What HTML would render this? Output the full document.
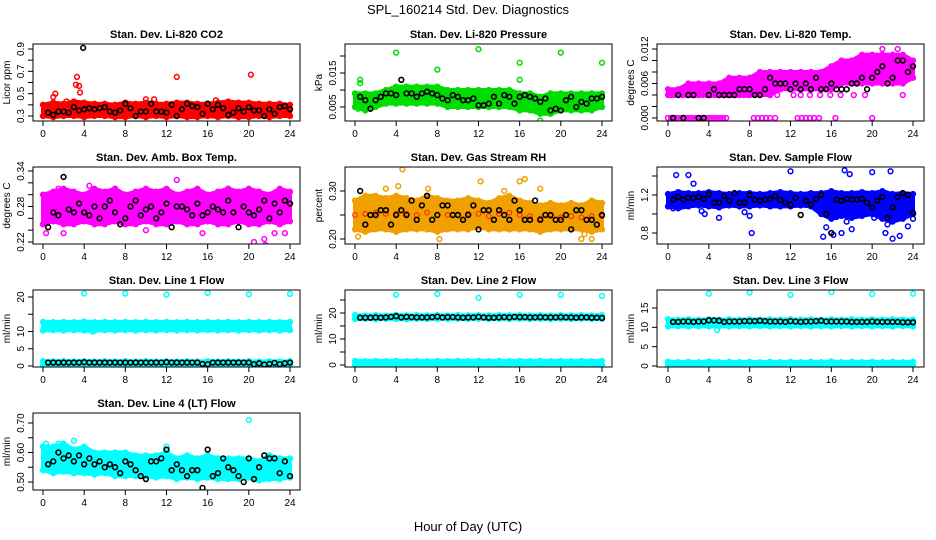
<!DOCTYPE html>
<html><head><meta charset="utf-8"><style>
html,body{margin:0;padding:0;background:#fff}
svg{display:block;font-family:"Liberation Sans",Arial,sans-serif}
</style></head><body>
<svg id="c" width="936" height="540" viewBox="0 0 936 540" xmlns="http://www.w3.org/2000/svg">
<text x="468" y="14" text-anchor="middle" font-size="13">SPL_160214  Std. Dev. Diagnostics</text>
<text x="468" y="531" text-anchor="middle" font-size="13">Hour of Day (UTC)</text>
</svg>
<script>
const hours=[0,1,2,3,4,5,6,7,8,9,10,11,12,13,14,15,16,17,18,19,20,21,22,23,24];
const blackX=[0.5,1,1.5,2,2.5,3,3.5,4,4.5,5,5.5,6,6.5,7,7.5,8,8.5,9,9.5,10,10.5,11,11.5,12,12.5,13,13.5,14,14.5,15,15.5,16,16.5,17,17.5,18,18.5,19,19.5,20,20.5,21,21.5,22,22.5,23,23.5,24];
const xTicks=[0,4,8,12,16,20,24];

const co2Lo=[0.30,0.29,0.30,0.30,0.29,0.30,0.30,0.29,0.29,0.30,0.29,0.30,0.29,0.30,0.29,0.29,0.30,0.29,0.30,0.29,0.29,0.30,0.29,0.30,0.30];
const co2Hi=[0.40,0.42,0.41,0.43,0.42,0.41,0.41,0.40,0.42,0.41,0.42,0.41,0.41,0.42,0.42,0.41,0.41,0.42,0.43,0.42,0.42,0.41,0.41,0.41,0.40];
const co2Black=[0.33,0.31,0.34,0.34,0.33,0.38,0.35,0.36,0.37,0.36,0.37,0.38,0.34,0.33,0.35,0.41,0.37,0.30,0.34,0.34,0.41,0.34,0.34,0.33,0.40,0.30,0.36,0.41,0.39,0.38,0.32,0.41,0.36,0.40,0.37,0.31,0.33,0.37,0.34,0.38,0.35,0.35,0.30,0.36,0.32,0.38,0.39,0.36];
const co2OutX=[1,1.2,3.2,3.3,3.5,3.6,13,20.2,10,10.8,16.8,2.3];
const co2OutY=[0.47,0.50,0.58,0.65,0.57,0.51,0.65,0.67,0.45,0.45,0.44,0.43];
const co2BOutX=[3.9];const co2BOutY=[0.91];

const prLo=[0.005,0.004,0.005,0.006,0.006,0.006,0.006,0.006,0.006,0.005,0.005,0.005,0.005,0.005,0.005,0.005,0.004,0.004,0.003,0.003,0.004,0.004,0.004,0.004,0.005];
const prHi=[0.009,0.009,0.009,0.010,0.011,0.011,0.011,0.011,0.011,0.010,0.010,0.010,0.010,0.010,0.010,0.010,0.009,0.009,0.008,0.009,0.009,0.009,0.009,0.009,0.009];
const prBlack=[0.008,0.007,0.0045,0.007,0.008,0.009,0.009,0.0085,0.013,0.009,0.009,0.008,0.009,0.0095,0.009,0.0085,0.0075,0.007,0.0085,0.008,0.007,0.007,0.0075,0.0055,0.0055,0.006,0.008,0.006,0.0085,0.008,0.006,0.008,0.0085,0.008,0.0075,0.0065,0.0075,0.004,0.0045,0.004,0.007,0.008,0.005,0.0065,0.006,0.0075,0.0075,0.008];
const prOutX=[0.5,0.5,4,8,12,16,16,20,24,18,0.3];
const prOutY=[0.013,0.012,0.021,0.016,0.022,0.018,0.013,0.021,0.018,0.001,0.0045];

const tpLo=[0.004,0.004,0.004,0.004,0.004,0.004,0.004,0.004,0.004,0.004,0.004,0.005,0.005,0.005,0.005,0.005,0.005,0.006,0.006,0.006,0.006,0.006,0.006,0.006,0.007];
const tpHi=[0.005,0.005,0.006,0.006,0.006,0.006,0.007,0.007,0.007,0.008,0.008,0.008,0.008,0.008,0.008,0.008,0.009,0.010,0.010,0.011,0.011,0.011,0.011,0.011,0.010];
const tpBlack=[0.000,0.004,0.000,0.004,0.004,0.000,0.000,0.004,0.005,0.004,0.004,0.004,0.004,0.005,0.005,0.005,0.004,0.004,0.005,0.007,0.006,0.006,0.006,0.005,0.006,0.005,0.006,0.005,0.007,0.005,0.005,0.006,0.005,0.005,0.005,0.006,0.006,0.007,0.005,0.007,0.008,0.009,0.006,0.007,0.010,0.010,0.008,0.009];
const tpOutX=[0,0.3,0.6,0.9,1.2,1.5,1.8,2.1,2.4,2.7,3,3.3,3.6,3.9,4.2,4.5,4.8,5.1,5.4,5.7,8.4,8.8,9.2,9.6,10,10.5,12.7,13.1,13.5,13.9,14.3,14.8,16.4,20,0.3,0.6,1,1.4,1.8,2.2,2.6,3,3.4,3.8,4.2,4.6,5,5.4,5.8,6.2,6.6,7,7.4,7.8,9,10,10.7,12.3,13,13.9,14.9,15.9,16.9,18.2,19.3,23,21,22.5];
const tpOutY=[0,0,0,0,0,0,0,0,0,0,0,0,0,0,0,0,0,0,0,0,0,0,0,0,0,0,0,0,0,0,0,0,0,0,0.004,0.004,0.004,0.004,0.004,0.004,0.004,0.004,0.004,0.004,0.004,0.004,0.004,0.004,0.004,0.004,0.004,0.004,0.004,0.004,0.004,0.004,0.004,0.004,0.004,0.004,0.004,0.004,0.004,0.004,0.004,0.004,0.012,0.012];

const abLo=[0.25,0.255,0.25,0.25,0.255,0.25,0.25,0.255,0.25,0.25,0.255,0.25,0.25,0.255,0.25,0.25,0.255,0.25,0.25,0.255,0.25,0.25,0.255,0.25,0.255];
const abHi=[0.30,0.305,0.31,0.305,0.30,0.31,0.305,0.31,0.30,0.305,0.31,0.305,0.31,0.30,0.305,0.31,0.30,0.305,0.31,0.305,0.31,0.305,0.30,0.31,0.305];
const abBlack=[0.245,0.27,0.265,0.33,0.275,0.27,0.285,0.27,0.265,0.28,0.26,0.28,0.29,0.27,0.25,0.26,0.28,0.29,0.265,0.275,0.28,0.26,0.27,0.285,0.245,0.28,0.28,0.275,0.265,0.285,0.265,0.27,0.28,0.275,0.27,0.29,0.27,0.245,0.28,0.27,0.265,0.275,0.29,0.26,0.285,0.27,0.29,0.285];
const abOutX=[0.3,4.5,7,13,15.5,18,20.5,21.5,21.6,22.5,23.5,10,2,1.5];
const abOutY=[0.235,0.315,0.31,0.325,0.235,0.31,0.22,0.225,0.215,0.235,0.235,0.24,0.235,0.31];

const rhLo=[0.22,0.215,0.22,0.22,0.215,0.22,0.22,0.22,0.215,0.22,0.22,0.22,0.225,0.22,0.22,0.22,0.22,0.22,0.215,0.22,0.22,0.22,0.22,0.215,0.22];
const rhHi=[0.28,0.29,0.29,0.285,0.29,0.285,0.28,0.29,0.285,0.28,0.28,0.285,0.28,0.275,0.285,0.29,0.28,0.275,0.27,0.275,0.27,0.275,0.27,0.28,0.275];
const rhBlack=[0.30,0.23,0.25,0.25,0.26,0.26,0.23,0.25,0.26,0.25,0.28,0.24,0.27,0.29,0.24,0.25,0.27,0.27,0.25,0.25,0.24,0.25,0.27,0.22,0.26,0.26,0.24,0.26,0.25,0.24,0.28,0.26,0.24,0.24,0.28,0.24,0.25,0.25,0.24,0.24,0.25,0.22,0.26,0.26,0.24,0.24,0.23,0.25];
const rhOutX=[0.3,4.2,7.1,12.2,16,16.5,22,22.3,23,18,14.5,3,8.2,4.6];
const rhOutY=[0.205,0.31,0.305,0.32,0.32,0.325,0.20,0.21,0.20,0.305,0.30,0.305,0.20,0.345];

const sfLo=[1.08,1.06,1.08,1.09,1.08,1.07,1.09,1.08,1.08,1.09,1.08,1.08,1.08,1.09,1.08,1.0,0.95,0.98,0.96,0.98,1.0,0.95,0.92,0.95,1.0];
const sfHi=[1.21,1.23,1.22,1.22,1.23,1.22,1.21,1.22,1.22,1.21,1.22,1.23,1.22,1.21,1.22,1.22,1.24,1.22,1.22,1.23,1.22,1.24,1.21,1.22,1.21];
const sfBlack=[1.15,1.18,1.15,1.17,1.17,1.18,1.16,1.21,1.12,1.12,1.19,1.14,1.22,1.12,1.12,1.20,1.15,1.14,1.15,1.16,1.19,1.15,1.12,1.10,1.17,0.99,1.14,1.10,1.16,1.20,1.0,0.80,1.15,1.14,1.16,1.15,1.15,1.16,1.12,1.07,1.14,1.18,0.96,1.07,1.18,1.22,1.20,1.01];
const sfOutX=[0.8,2,2.5,3.3,3.6,5,7.5,8,8.2,12,17.3,17.8,20,21.8,15.2,16,17,18,21.3,22,22.7,23.5,24,20.2,16.5,17.5,21.5,15.5,16.2,0.5];
const sfOutY=[1.41,1.41,1.32,1.03,1.0,0.96,1.02,0.98,0.80,1.45,1.46,1.42,1.44,1.45,0.76,0.80,0.80,0.84,0.80,0.74,0.77,0.87,0.95,0.96,0.97,0.92,0.89,0.86,0.78,1.06];

const l1Lo=[10.3,10.4,10.3,10.4,10.3,10.2,10.4,10.3,10.4,10.3,10.4,10.3,10.4,10.3,10.4,10.3,10.4,10.3,10.4,10.3,10.4,10.3,10.4,10.3,10.4];
const l1Hi=[12.8,12.7,12.8,12.7,12.9,12.7,12.8,12.7,12.8,12.7,12.8,12.7,12.8,12.7,12.8,12.7,12.8,12.7,12.8,12.7,12.8,12.7,12.8,12.7,12.8];
const l1RowLo=[0.2,0.3,0.2,0.3,0.2,0.3,0.2,0.3,0.2,0.3,0.2,0.3,0.2,0.3,0.2,0.3,0.2,0.3,0.2,0.3,0.2,0.3,0.2,0.3,0.2];
const l1RowHi=[1.4,1.3,1.4,1.3,1.4,1.3,1.4,1.3,1.4,1.3,1.4,1.3,1.4,1.3,1.4,1.3,1.4,1.3,1.4,1.3,1.4,1.3,1.4,1.3,1.4];
const l1Black=[1,1,1,1,1,1,1,1.1,1,1,1,1,1,1,1,1,1,1,1,1,1,1,1,1.1,1,1,1,1,1,1,0.6,0.5,1,1,1,1,1,1,1,1,0.5,0.8,0.4,0.6,0.9,0.5,0.8,1];
const l1OutX=[4,8,12,16,20,24,4.8];
const l1OutY=[21,21,20.7,21.2,20.8,20.9,10];

const l2Lo=[17.7,17.8,17.6,17.8,17.7,17.6,17.8,17.7,17.8,17.7,17.8,17.7,17.8,17.7,17.8,17.7,17.8,17.7,17.8,17.7,17.8,17.7,17.8,17.7,17.8];
const l2Hi=[19.2,19.1,19.2,19.0,19.3,19.1,19.2,19.1,19.2,19.1,19.2,19.1,19.2,19.1,19.2,19.1,19.2,19.1,19.2,19.1,19.2,19.1,19.2,19.1,19.2];
const l2RowLo=[0.2,0.3,0.2,0.3,0.2,0.3,0.2,0.3,0.2,0.3,0.2,0.3,0.2,0.3,0.2,0.3,0.2,0.3,0.2,0.3,0.2,0.3,0.2,0.3,0.0];
const l2RowHi=[1.6,1.5,1.6,1.5,1.6,1.5,1.6,1.5,1.6,1.5,1.6,1.5,1.6,1.5,1.6,1.5,1.6,1.5,1.6,1.5,1.6,1.5,1.6,1.5,1.6];
const l2Black=[18.2,18.2,18.2,18.3,18.2,18.3,18.5,18.8,18.3,18.5,18.4,18.3,18.3,18.3,18.4,18.6,18.3,18.4,18.4,18.3,18.2,18.3,18.3,18.5,18.3,18.2,18.2,18.3,18.4,18.3,18.5,18.4,18.4,18.3,18.3,18.4,18.3,18.3,18.3,18.4,18.3,18.3,18.2,18.3,18.3,18.2,18.2,18.1];
const l2OutX=[4,8,12,16,20,24];
const l2OutY=[27,27.3,25.8,27,27,26.6];

const l3Lo=[10.2,10.3,10.2,10.3,10.2,10.3,10.2,10.3,10.2,10.3,10.2,10.3,10.2,10.3,10.2,10.3,10.2,10.3,10.2,10.3,10.2,10.3,10.2,10.3,10.2];
const l3Hi=[12.1,12.0,12.1,12.0,12.1,12.0,12.1,12.0,12.1,12.0,12.1,12.0,12.1,12.0,12.1,12.0,12.1,12.0,12.1,12.0,12.1,12.0,12.1,12.0,12.0];
const l3RowLo=[0.1,0.2,0.1,0.2,0.1,0.2,0.1,0.2,0.1,0.2,0.1,0.2,0.1,0.2,0.1,0.2,0.1,0.2,0.1,0.2,0.1,0.2,0.1,0.2,0.1];
const l3RowHi=[1.1,1.0,1.1,1.0,1.2,1.0,1.1,1.0,1.1,1.0,1.1,1.0,1.1,1.0,1.1,1.0,1.2,1.0,1.1,1.0,1.1,1.0,1.1,1.0,1.1];
const l3Black=[11.4,11.4,11.5,11.5,11.4,11.5,11.5,11.8,11.8,11.7,11.4,11.5,11.5,11.5,11.6,11.6,11.6,11.7,11.6,11.5,11.5,11.5,11.4,11.6,11.5,11.4,11.5,11.5,11.6,11.7,11.5,11.5,11.5,11.5,11.5,11.4,11.4,11.4,11.4,11.5,11.4,11.4,11.4,11.4,11.4,11.3,11.3,11.3];
const l3OutX=[4,8,12,16,20,24,4.8];
const l3OutY=[18.7,19,18.4,19.1,18.6,18.7,9.3];

const l4Lo=[0.54,0.53,0.535,0.53,0.53,0.525,0.53,0.52,0.52,0.52,0.52,0.515,0.52,0.51,0.515,0.51,0.515,0.51,0.51,0.51,0.515,0.505,0.51,0.51,0.515];
const l4Hi=[0.62,0.62,0.63,0.61,0.62,0.60,0.60,0.60,0.60,0.59,0.59,0.59,0.60,0.58,0.59,0.58,0.59,0.58,0.58,0.58,0.58,0.57,0.59,0.58,0.58];
const l4Black=[0.56,0.57,0.60,0.58,0.59,0.57,0.59,0.56,0.58,0.56,0.57,0.55,0.56,0.55,0.53,0.57,0.56,0.54,0.52,0.51,0.57,0.57,0.58,0.61,0.54,0.56,0.54,0.52,0.54,0.54,0.48,0.61,0.52,0.53,0.58,0.55,0.54,0.52,0.50,0.58,0.51,0.55,0.59,0.58,0.58,0.53,0.57,0.52];
const l4OutX=[4,20,12,0.3,1.5,3];
const l4OutY=[0.745,0.71,0.62,0.63,0.63,0.64];

const panels=[
 {name:"co2",title:"Stan. Dev. Li-820 CO2",ylab:"Licor ppm",col:0,row:0,color:"#ff0000",ref:[0.3,72,0.9,5],ticks:[0.3,0.4,0.5,0.6,0.7,0.8,0.9],labels:[0.3,0.5,0.7,0.9],dec:1,lo:co2Lo,hi:co2Hi,bk:co2Black,ox:co2OutX,oy:co2OutY,bx:co2BOutX,by:co2BOutY},
 {name:"pressure",title:"Stan. Dev. Li-820 Pressure",ylab:"kPa",col:1,row:0,color:"#00dd00",ref:[0.005,63,0.015,29],ticks:[0.005,0.010,0.015,0.020],labels:[0.005,0.015],dec:3,lo:prLo,hi:prHi,bk:prBlack,ox:prOutX,oy:prOutY},
 {name:"temp",title:"Stan. Dev. Li-820 Temp.",ylab:"degrees C",col:2,row:0,color:"#ff00ff",ref:[0,74,0.012,5],ticks:[0,0.002,0.004,0.006,0.008,0.010,0.012],labels:[0,0.006,0.012],dec:3,lo:tpLo,hi:tpHi,bk:tpBlack,ox:tpOutX,oy:tpOutY},
 {name:"amb-box",title:"Stan. Dev. Amb. Box Temp.",ylab:"degrees C",col:0,row:1,color:"#ff00ff",ref:[0.22,75,0.34,4],ticks:[0.22,0.24,0.26,0.28,0.30,0.32,0.34],labels:[0.22,0.28,0.34],dec:2,lo:abLo,hi:abHi,bk:abBlack,ox:abOutX,oy:abOutY},
 {name:"gas-rh",title:"Stan. Dev. Gas Stream RH",ylab:"percent",col:1,row:1,color:"#f0a000",ref:[0.20,72,0.30,24],ticks:[0.20,0.25,0.30],labels:[0.20,0.30],dec:2,lo:rhLo,hi:rhHi,bk:rhBlack,ox:rhOutX,oy:rhOutY,speck:"#ff2000"},
 {name:"sample-flow",title:"Stan. Dev. Sample Flow",ylab:"ml/min",col:2,row:1,color:"#0000ff",ref:[0.8,66,1.2,28],ticks:[0.8,1.0,1.2,1.4],labels:[0.8,1.2],dec:1,lo:sfLo,hi:sfHi,bk:sfBlack,ox:sfOutX,oy:sfOutY},
 {name:"line1",title:"Stan. Dev. Line 1 Flow",ylab:"ml/min",col:0,row:2,color:"#00ffff",ref:[0,76,20,7],ticks:[0,5,10,15,20],labels:[0,5,10,20],dec:0,lo:l1Lo,hi:l1Hi,lo2:l1RowLo,hi2:l1RowHi,bk:l1Black,ox:l1OutX,oy:l1OutY},
 {name:"line2",title:"Stan. Dev. Line 2 Flow",ylab:"ml/min",col:1,row:2,color:"#00ffff",ref:[0,75,20,23],ticks:[0,5,10,15,20,25],labels:[0,10,20],dec:0,lo:l2Lo,hi:l2Hi,lo2:l2RowLo,hi2:l2RowHi,bk:l2Black,ox:l2OutX,oy:l2OutY},
 {name:"line3",title:"Stan. Dev. Line 3 Flow",ylab:"ml/min",col:2,row:2,color:"#00ffff",ref:[0,76,15,18],ticks:[0,5,10,15],labels:[0,5,10,15],dec:0,lo:l3Lo,hi:l3Hi,lo2:l3RowLo,hi2:l3RowHi,bk:l3Black,ox:l3OutX,oy:l3OutY},
 {name:"line4",title:"Stan. Dev. Line 4 (LT) Flow",ylab:"ml/min",col:0,row:3,color:"#00ffff",ref:[0.50,69,0.70,10],ticks:[0.50,0.55,0.60,0.65,0.70],labels:[0.50,0.60,0.70],dec:2,lo:l4Lo,hi:l4Hi,bk:l4Black,ox:l4OutX,oy:l4OutY}
];

const NS="http://www.w3.org/2000/svg";
const svg=document.getElementById('c');
const colLeft=[33,345,657],colX0=[43,355,668],colX24=[290,602,913];
const rowTop=[44,167,290,413];
const W=267,H=77;
function mk(tag,attrs,parent){const e=document.createElementNS(NS,tag);for(const k in attrs)e.setAttribute(k,attrs[k]);(parent||svg).appendChild(e);return e;}

panels.forEach(p=>{
 const L=colLeft[p.col],T=rowTop[p.row];
 const g=mk('g',{});
 
 
 const xs=h=>colX0[p.col]+(colX24[p.col]-colX0[p.col])*h/24;
 const [v1,p1,v2,p2]=p.ref;
 const ys=v=>T+p1+(v-v1)*(p2-p1)/(v2-v1);
 const clip='clip-'+p.name;
 const cp=mk('clipPath',{id:clip},g);mk('rect',{x:L,y:T,width:W,height:H},cp);
 const dg=mk('g',{'clip-path':'url(#'+clip+')'},g);
 function band(lo,hi){
  let pts=hours.map((h,i)=>xs(h)+','+ys(hi[i]));
  pts=pts.concat(hours.slice().reverse().map((h,j)=>{const i=hours.length-1-j;return xs(h)+','+ys(lo[i]);}));
  const poly=mk('polygon',{points:pts.join(' '),fill:p.color,stroke:p.color,'stroke-width':4,'stroke-linejoin':'round'},dg);
  
  
  hours.forEach((h,i)=>{[lo[i],hi[i]].forEach(v=>{
   const c=mk('circle',{cx:xs(h),cy:ys(v),r:2.4,fill:'none',stroke:p.color,'stroke-width':1.5},dg);
   
   
  });});
 }
 band(p.lo,p.hi);
 if(p.lo2)band(p.lo2,p.hi2);
 if(p.speck){
  hours.forEach((h,i)=>{const c=mk('circle',{cx:xs(h),cy:ys((p.lo[i]+p.hi[i])/2),r:2.4,fill:'none',stroke:p.speck,'stroke-width':1},dg);
   
   });
 }
 p.ox.forEach((x,i)=>{
  const c=mk('circle',{cx:xs(x),cy:ys(p.oy[i]),r:2.4,fill:'none',stroke:p.color,'stroke-width':1.5},dg);
  
  
 });
 p.bk.forEach((v,i)=>{
  const c=mk('circle',{cx:xs(blackX[i]),cy:ys(v),r:2.4,fill:'none',stroke:'#000','stroke-width':1.6},dg);
  
  
 });
 if(p.bx)p.bx.forEach((x,i)=>{
  const c=mk('circle',{cx:xs(x),cy:ys(p.by[i]),r:2.4,fill:'none',stroke:'#000','stroke-width':1.6},dg);
  
  
 });
 const box=mk('rect',{x:L,y:T,width:W,height:H,fill:'none',stroke:'#000','stroke-width':1},g);
 
 
 const tt=mk('text',{x:L+W/2,y:T-6,'text-anchor':'middle','font-size':11,'font-weight':'bold'},g);
 tt.textContent=p.title;
 
 
 // x axis
 const B=T+H;
 mk('line',{x1:xs(0),x2:xs(24),y1:B,y2:B,stroke:'#000'},g);
 xTicks.forEach(h=>{
  mk('line',{x1:xs(h),x2:xs(h),y1:B,y2:B+5,stroke:'#000'},g);
  const t=mk('text',{x:xs(h),y:B+16,'text-anchor':'middle','font-size':10},g);
  t.textContent=h;
  
  
 });
 // y axis
 p.ticks.forEach(v=>{mk('line',{x1:L-5,x2:L,y1:ys(v),y2:ys(v),stroke:'#000'},g);});
 p.labels.forEach(v=>{
  const y=ys(v),x=L-9;
  const t=mk('text',{x:x,y:y,'text-anchor':'middle','font-size':10,transform:'rotate(-90 '+x+' '+y+')'},g);
  t.textContent=v.toFixed(p.dec);
  
  
 });
 const ax=L-23,ay=T+H/2;
 const yl=mk('text',{x:ax,y:ay,'text-anchor':'middle','font-size':10,transform:'rotate(-90 '+ax+' '+ay+')'},g);
 yl.textContent=p.ylab;
 
 
});
</script>
</body></html>
